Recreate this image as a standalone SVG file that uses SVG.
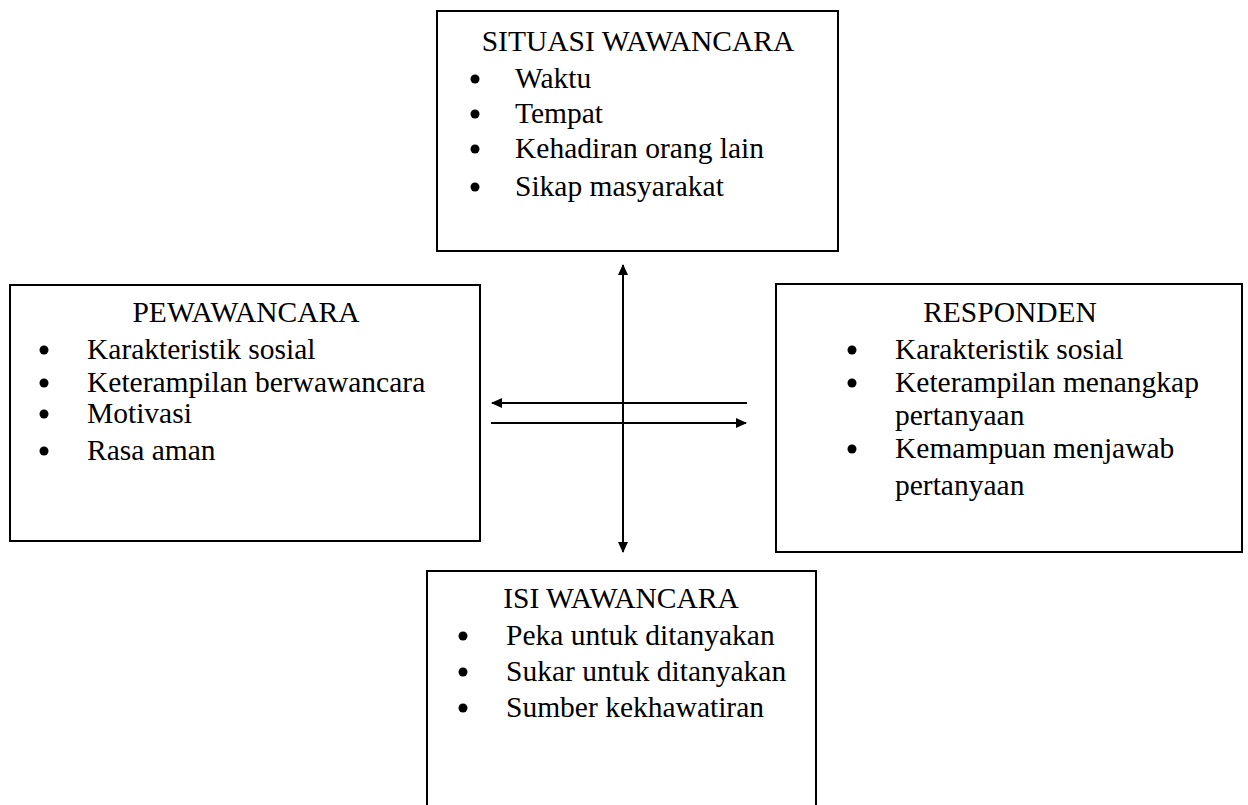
<svg xmlns="http://www.w3.org/2000/svg" width="1248" height="805" viewBox="0 0 1248 805">
  <style>
    .box { fill: #ffffff; stroke: #000000; stroke-width: 2; }
    .title { font-family: "Liberation Serif", "Times New Roman", serif; font-size: 29.5px; fill: #000000; text-anchor: middle; }
    .item { font-family: "Liberation Serif", "Times New Roman", serif; font-size: 29.5px; fill: #000000; }
    .dot { fill: #000000; }
    .link { fill: none; stroke: #000000; stroke-width: 2; }
  </style>
  <defs>
    <marker id="head" viewBox="0 0 11 10" refX="10" refY="5" markerWidth="11" markerHeight="10" markerUnits="userSpaceOnUse" orient="auto-start-reverse">
      <path d="M0,0 L11,5 L0,10 z" fill="#000000"/>
    </marker>
  </defs>
  <rect x="0" y="0" width="1248" height="805" fill="#ffffff"/>

  <!-- Interview situation -->
  <g id="situasi">
    <rect class="box" x="437" y="11" width="401" height="240"/>
    <text class="title" x="638" y="51">SITUASI WAWANCARA</text>
    <circle class="dot" cx="475" cy="79" r="4.5"/>
    <text class="item" x="515" y="88">Waktu</text>
    <circle class="dot" cx="475" cy="114" r="4.5"/>
    <text class="item" x="515" y="123">Tempat</text>
    <circle class="dot" cx="475" cy="149" r="4.5"/>
    <text class="item" x="515" y="158">Kehadiran orang lain</text>
    <circle class="dot" cx="475" cy="187" r="4.5"/>
    <text class="item" x="515" y="196">Sikap masyarakat</text>
  </g>

  <!-- Interviewer -->
  <g id="pewawancara">
    <rect class="box" x="10" y="285" width="470" height="256"/>
    <text class="title" x="246" y="322">PEWAWANCARA</text>
    <circle class="dot" cx="44" cy="350" r="4.5"/>
    <text class="item" x="87" y="359">Karakteristik sosial</text>
    <circle class="dot" cx="44" cy="383" r="4.5"/>
    <text class="item" x="87" y="392">Keterampilan berwawancara</text>
    <circle class="dot" cx="44" cy="414" r="4.5"/>
    <text class="item" x="87" y="423">Motivasi</text>
    <circle class="dot" cx="44" cy="451" r="4.5"/>
    <text class="item" x="87" y="460">Rasa aman</text>
  </g>

  <!-- Respondent -->
  <g id="responden">
    <rect class="box" x="776" y="284" width="466" height="268"/>
    <text class="title" x="1010" y="322">RESPONDEN</text>
    <circle class="dot" cx="852" cy="350" r="4.5"/>
    <text class="item" x="895" y="359">Karakteristik sosial</text>
    <circle class="dot" cx="852" cy="383" r="4.5"/>
    <text class="item" x="895" y="392">Keterampilan menangkap</text>
    <text class="item" x="895" y="425">pertanyaan</text>
    <circle class="dot" cx="852" cy="449" r="4.5"/>
    <text class="item" x="895" y="458">Kemampuan menjawab</text>
    <text class="item" x="895" y="495">pertanyaan</text>
  </g>

  <!-- Interview content -->
  <g id="isi">
    <rect class="box" x="427" y="571" width="389" height="250"/>
    <text class="title" x="621" y="608">ISI WAWANCARA</text>
    <circle class="dot" cx="463" cy="636" r="4.5"/>
    <text class="item" x="506" y="645">Peka untuk ditanyakan</text>
    <circle class="dot" cx="463" cy="672" r="4.5"/>
    <text class="item" x="506" y="681">Sukar untuk ditanyakan</text>
    <circle class="dot" cx="463" cy="708" r="4.5"/>
    <text class="item" x="506" y="717">Sumber kekhawatiran</text>
  </g>

  <!-- Connectors -->
  <g id="connectors">
    <line class="link" x1="623" y1="265" x2="623" y2="552" marker-start="url(#head)" marker-end="url(#head)"/>
    <line class="link" x1="747" y1="403" x2="492" y2="403" marker-end="url(#head)"/>
    <line class="link" x1="491" y1="423" x2="746" y2="423" marker-end="url(#head)"/>
  </g>
</svg>
